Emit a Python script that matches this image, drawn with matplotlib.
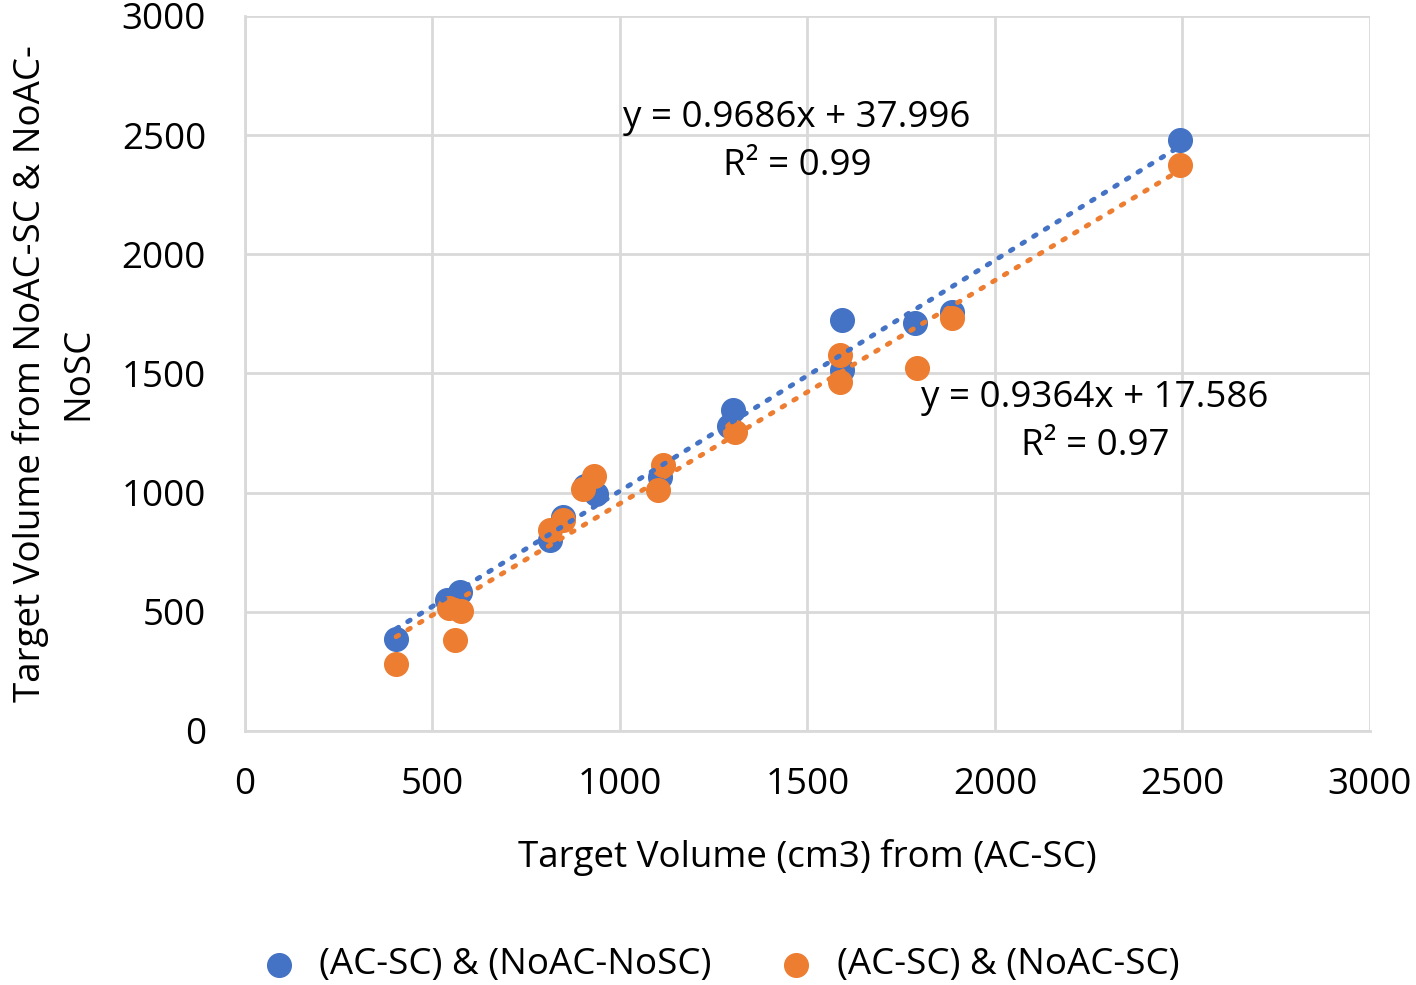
import numpy as np
import matplotlib.pyplot as plt

plt.rcParams['font.family'] = ['Open Sans', 'DejaVu Sans']

# (AC-SC) & (NoAC-NoSC)
blue_x = [403, 539, 573, 813, 848, 907, 936, 1107, 1301, 1292, 1592, 1592, 1787, 1885, 2493]
blue_y = [386, 550, 583, 801, 898, 1028, 995, 1066, 1347, 1280, 1725, 1515, 1712, 1758, 2480]
# (AC-SC) & (NoAC-SC)
orange_x = [403, 544, 560, 576, 813, 848, 901, 931, 1101, 1115, 1307, 1587, 1587, 1792, 1885, 2493]
orange_y = [280, 516, 382, 504, 843, 885, 1016, 1070, 1011, 1116, 1255, 1578, 1465, 1523, 1733, 2375]

blue_fit = (0.9686, 37.996)
orange_fit = (0.9364, 17.586)

blue = '#4472C4'
orange = '#ED7D31'
grid_c = '#d9d9d9'

fig = plt.figure(figsize=(14.16, 9.85), dpi=100)
ax = fig.add_axes([0.173, 0.258, 0.7945, 0.7258])

ax.scatter(blue_x, blue_y, s=290, color=blue, zorder=3, label='(AC-SC) & (NoAC-NoSC)')
ax.scatter(orange_x, orange_y, s=290, color=orange, zorder=3, label='(AC-SC) & (NoAC-SC)')

for xs, (m, b), c in [(blue_x, blue_fit, blue), (orange_x, orange_fit, orange)]:
    xx = np.array([min(xs), max(xs)])
    ax.plot(xx, m * xx + b, color=c, linewidth=3.5, linestyle=(0, (0.6, 2.2)),
            dash_capstyle='round', zorder=4)

ax.text(1472, 2470, 'y = 0.9686x + 37.996\nR² = 0.99', ha='center', va='center',
        fontsize=26.5, linespacing=1.45, zorder=5)
ax.text(2267, 1295, 'y = 0.9364x + 17.586\nR² = 0.97', ha='center', va='center',
        fontsize=26.5, linespacing=1.45, zorder=5)

ax.set_xlim(0, 3000)
ax.set_ylim(0, 3000)
ax.set_xticks(range(0, 3001, 500))
ax.set_yticks(range(0, 3001, 500))
ax.grid(True, color=grid_c, linewidth=2)
ax.set_axisbelow(True)
for s in ['top', 'right']:
    ax.spines[s].set_visible(False)
for s in ['left', 'bottom']:
    ax.spines[s].set_color(grid_c)
    ax.spines[s].set_linewidth(2)
ax.tick_params(length=0, labelsize=26.5, colors='#404040', labelcolor='black')
ax.tick_params(axis='y', pad=28)
ax.tick_params(axis='x', pad=26)

ax.set_xlabel('Target Volume (cm3) from (AC-SC)', fontsize=26.5, labelpad=26)
ax.set_ylabel('Target Volume from NoAC-SC & NoAC-\nNoSC', fontsize=26.5, labelpad=18,
              linespacing=1.45)

fig.legend(loc='lower center', bbox_to_anchor=(0.502, -0.032), ncol=2, frameon=False,
           fontsize=26.5, handletextpad=0.1, columnspacing=1.3, markerscale=1.0)

fig.savefig('out.png', dpi=100)
